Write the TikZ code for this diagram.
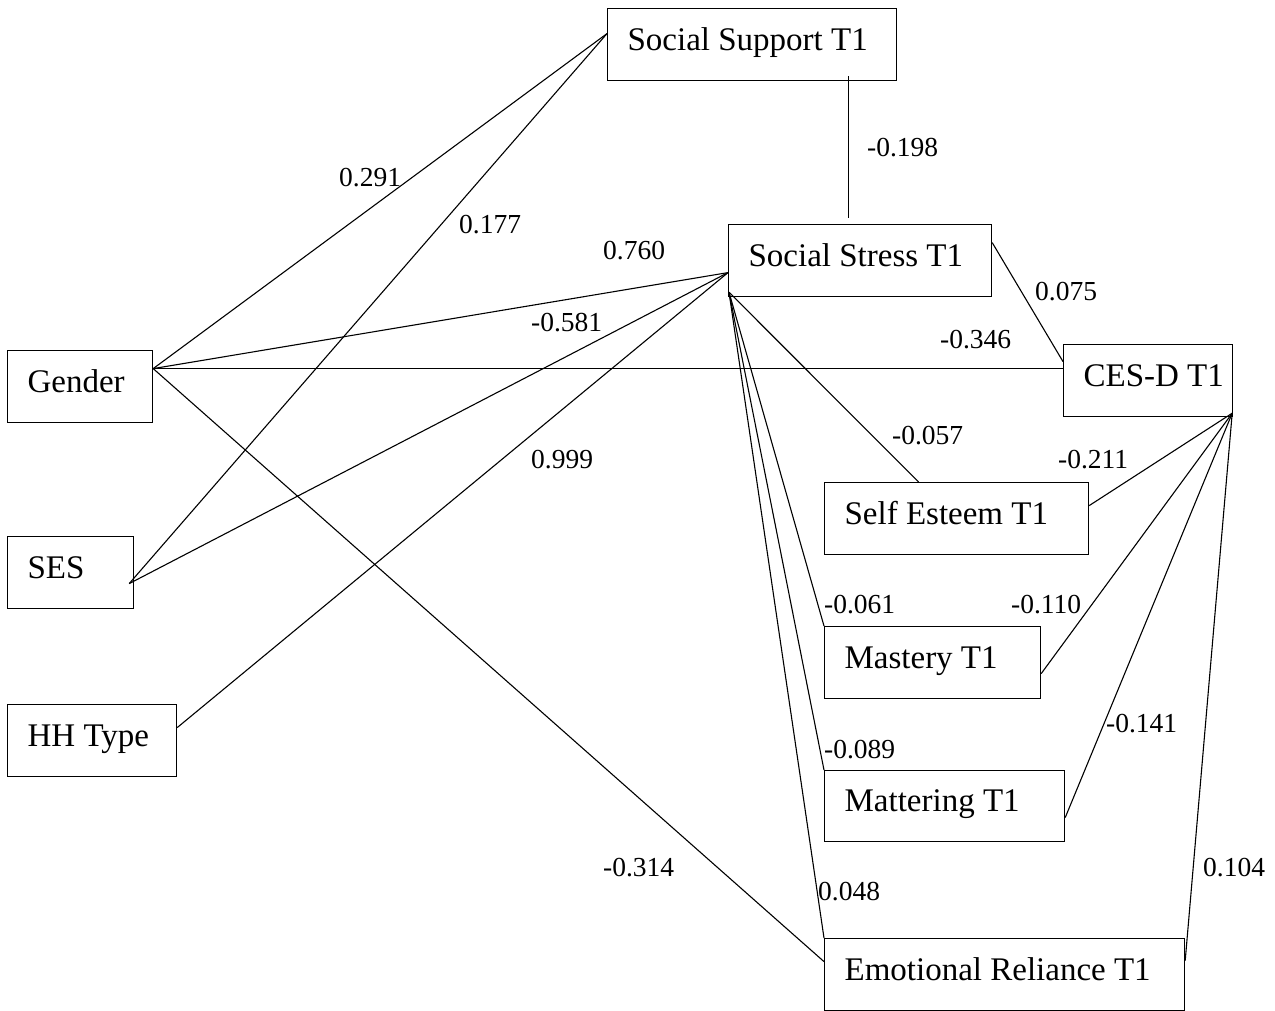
\documentclass[tikz,border=0pt]{standalone}
\usepackage{fontspec}
\setmainfont{Liberation Serif}
\newcommand{\boxtxt}[2]{\makebox[#1][l]{#2}}
\begin{document}
\begin{tikzpicture}[x=1pt,y=-1pt,
  box/.style={draw, rectangle, line width=1.2pt, anchor=north west, inner xsep=20pt, inner ysep=0pt,
    text height=24pt, text depth=13pt, font=\fontsize{33}{36}\selectfont},
  coef/.style={anchor=base west, inner sep=0pt, font=\fontsize{27.5}{30}\selectfont},
  link/.style={draw, line width=1.1pt}]
\useasboundingbox (0,0) rectangle (1275,1011);

% boxes
\node[box, minimum height=72pt] (sup) at (607,8)   {\boxtxt{249pt}{Social Support T1}};
\node[box, minimum height=72pt] (str) at (728,224) {\boxtxt{223pt}{Social Stress T1}};
\node[box, minimum height=72pt] (ces) at (1063,344){\boxtxt{129pt}{CES-D T1}};
\node[box, minimum height=72pt] (gen) at (7,350)   {\boxtxt{105pt}{Gender}};
\node[box, minimum height=72pt] (ses) at (7,536)   {\boxtxt{86pt}{SES}};
\node[box, minimum height=72pt] (hh)  at (7,704)   {\boxtxt{129pt}{HH Type}};
\node[box, minimum height=72pt] (se)  at (824,482) {\boxtxt{224pt}{Self Esteem T1}};
\node[box, minimum height=72pt] (ma)  at (824,626) {\boxtxt{176pt}{Mastery T1}};
\node[box, minimum height=71pt] (mt)  at (824,770) {\boxtxt{200pt}{Mattering T1}};
\node[box, minimum height=72pt] (er)  at (824,938) {\boxtxt{320pt}{Emotional Reliance T1}};

% connectors from Gender
\draw[link] ([yshift=18pt]gen.east) -- ([yshift=11pt]sup.west);
\draw[link] ([yshift=18pt]gen.east) -- ([yshift=-12pt]str.west);
\draw[link] ([yshift=18pt]gen.east) -- ([yshift=12pt]ces.west);
\draw[link] ([yshift=18pt]gen.east) -- ([yshift=13pt]er.west);
% from SES
\draw[link] ([xshift=-5pt,yshift=-11pt]ses.east) -- ([yshift=11pt]sup.west);
\draw[link] ([xshift=-5pt,yshift=-11pt]ses.east) -- ([yshift=-12pt]str.west);
% from HH Type
\draw[link] ([yshift=13pt]hh.east) -- ([yshift=-12pt]str.west);
% Social Support -> Social Stress
\draw[link] ([xshift=96.5pt,yshift=5pt]sup.south) -- ([xshift=-11.5pt,yshift=6pt]str.north);
% Social Stress -> CES-D
\draw[link] ([yshift=18pt]str.east) -- ([yshift=19pt]ces.west);
% Social Stress -> mediators
\draw[link] ([xshift=1pt,yshift=5pt]str.south west) -- ([xshift=-38pt]se.north);
\draw[link] ([xshift=1pt,yshift=5pt]str.south west) -- (ma.north west);
\draw[link] ([xshift=1pt,yshift=5pt]str.south west) -- (mt.north west);
\draw[link] ([xshift=1pt,yshift=5pt]str.south west) -- (er.north west);
% CES-D -> mediators
\draw[link] ([xshift=-1pt,yshift=4pt]ces.south east) -- ([yshift=13pt]se.east);
\draw[link] ([xshift=-1pt,yshift=4pt]ces.south east) -- ([yshift=-11pt]ma.east);
\draw[link] ([xshift=-1pt,yshift=4pt]ces.south east) -- ([yshift=-11.5pt]mt.east);
\draw[link] ([xshift=-1pt,yshift=4pt]ces.south east) -- ([yshift=14pt]er.east);

% coefficients
\node[coef] (c1)  at (339,187)  {0.291};
\node[coef] (c2)  at (459,234)  {0.177};
\node[coef] (c3)  at (603,260)  {0.760};
\node[coef] (c4)  at (531,331)  {-0.581};
\node[coef] (c5)  at (531,468)  {0.999};
\node[coef] (c6)  at (867,157)  {-0.198};
\node[coef] (c7)  at (1035,301) {0.075};
\node[coef] (c8)  at (940,348)  {-0.346};
\node[coef] (c9)  at (892,444)  {-0.057};
\node[coef] (c10) at (1058,468) {-0.211};
\node[coef] (c11) at (824,613)  {-0.061};
\node[coef] (c12) at (1011,613) {-0.110};
\node[coef] (c13) at (824,758)  {-0.089};
\node[coef] (c14) at (1106,732) {-0.141};
\node[coef] (c15) at (603,876)  {-0.314};
\node[coef] (c16) at (818,900)  {0.048};
\node[coef] (c17) at (1203,876) {0.104};
\end{tikzpicture}
\end{document}
